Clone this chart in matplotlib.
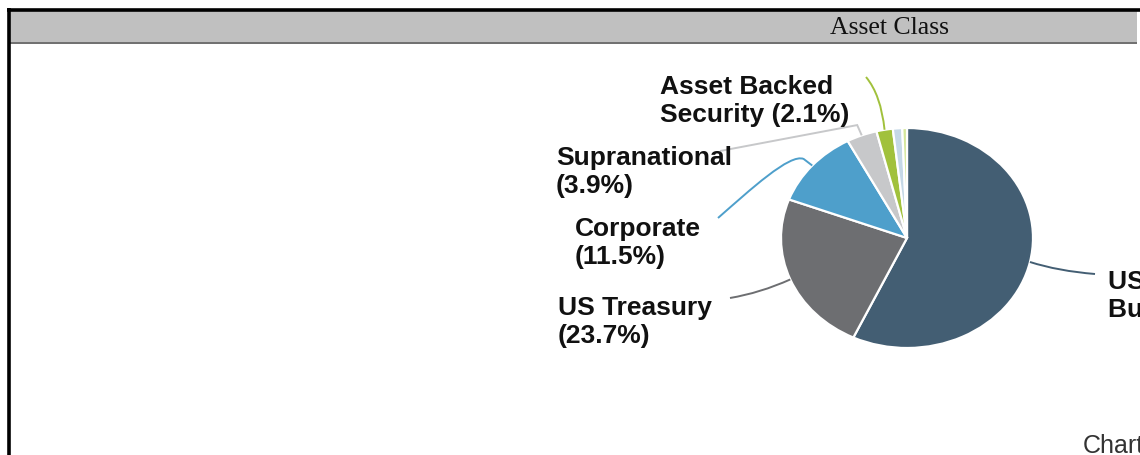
import matplotlib
matplotlib.use('Agg')
import matplotlib.pyplot as plt
from matplotlib.patches import Rectangle, PathPatch
from matplotlib.path import Path
import numpy as np

# ---------------- data ----------------
categories = ['US Agency Bullet', 'US Treasury', 'Corporate', 'Supranational',
              'Asset Backed Security', 'Municipal', 'Commercial Paper']
values = [57.0, 23.7, 11.5, 3.9, 2.1, 1.2, 0.6]
labels = ['US Agency\nBullet (57.0%)', 'US Treasury\n(23.7%)', 'Corporate\n(11.5%)',
          'Supranational\n(3.9%)', 'Asset Backed\nSecurity (2.1%)', None, None]
colors = ['#435e73', '#6d6e71', '#4e9fcb', '#c7c8ca', '#a1c13c', '#c5d8e6', '#d5e79b']
title = 'Asset Class'
footer = 'Chart'

# ---------------- layout (pixels) ----------------
W, H = 1140, 455
cx, cy, rx, ry = 907, 238, 126, 110
label_pos = {
    0: dict(x=1108, y=270, end=(1095, 274), ctrl=[(1058, 271)]),
    1: dict(x=558, y=296, end=(730, 298), ctrl=[(760, 293)]),
    2: dict(x=575, y=217, end=(718, 218), ctrl=[(790, 153), (750, 190)], elbow=1.09),
    3: dict(x=556, y=146, end=(720, 151), ctrl=[], elbow=1.10),
    4: dict(x=660, y=75, end=(866, 77), ctrl=[(881, 95)]),
}

fig = plt.figure(figsize=(W / 100, H / 100), dpi=100)

# background / frame axes
bg = fig.add_axes([0, 0, 1, 1])
bg.set_xlim(0, W)
bg.set_ylim(H, 0)
bg.axis('off')
bg.add_patch(Rectangle((10, 11), 1127, 31, facecolor='#c0c0c0', edgecolor='none'))
bg.plot([10, 1137], [42.5, 42.5], color='#555555', lw=1.2, solid_capstyle='butt')
bg.plot([7, W], [9.5, 9.5], color='black', lw=2.6, solid_capstyle='butt')
bg.plot([8.5, 8.5], [8, H], color='black', lw=2.6, solid_capstyle='butt')
bg.text(890, 28, title, ha='center', va='center', fontsize=18.5,
        family='Liberation Serif', color='#111111')
bg.text(1083, 446, footer, ha='left', va='center', fontsize=18,
        family='Liberation Sans', color='#333333')

# pie axes
pax = fig.add_axes([(cx - rx) / W, 1 - (cy + ry) / H, 2 * rx / W, 2 * ry / H])
wedges, _ = pax.pie(values, colors=colors, startangle=90, counterclock=False,
                    radius=1.0,
                    wedgeprops=dict(edgecolor='white', linewidth=1.6))
pax.set_xlim(-1.0, 1.0)
pax.set_ylim(-1.0, 1.0)
pax.set_aspect('auto')
pax.axis('off')

# overlay for labels and leader lines
ov = fig.add_axes([0, 0, 1, 1], zorder=5)
ov.set_xlim(0, W)
ov.set_ylim(H, 0)
ov.axis('off')
ov.patch.set_alpha(0)

fig.canvas.draw()


def to_ov(pt):
    disp = pax.transData.transform(pt)
    return ov.transData.inverted().transform(disp)


for i, (w, lab) in enumerate(zip(wedges, labels)):
    if lab is None:
        continue
    p = label_pos[i]
    th = np.deg2rad((w.theta1 + w.theta2) / 2)
    a = to_ov((np.cos(th), np.sin(th)))
    verts = [tuple(a)]
    codes = [Path.MOVETO]
    if 'elbow' in p:
        e = to_ov((p['elbow'] * np.cos(th), p['elbow'] * np.sin(th)))
        verts.append(tuple(e))
        codes.append(Path.LINETO)
    ctrl = p['ctrl']
    if len(ctrl) == 0:
        verts.append(p['end']); codes.append(Path.LINETO)
    elif len(ctrl) == 1:
        verts += [ctrl[0], p['end']]; codes += [Path.CURVE3, Path.CURVE3]
    else:
        verts += [ctrl[0], ctrl[1], p['end']]; codes += [Path.CURVE4] * 3
    ov.add_patch(PathPatch(Path(verts, codes), facecolor='none',
                           edgecolor=colors[i], lw=1.4))
    ov.text(p['x'], p['y'], lab, ha='left', va='top', fontsize=19,
            fontweight='bold', family='Liberation Sans', color='#111111',
            linespacing=1.2)

fig.savefig('out.png', dpi=100)
